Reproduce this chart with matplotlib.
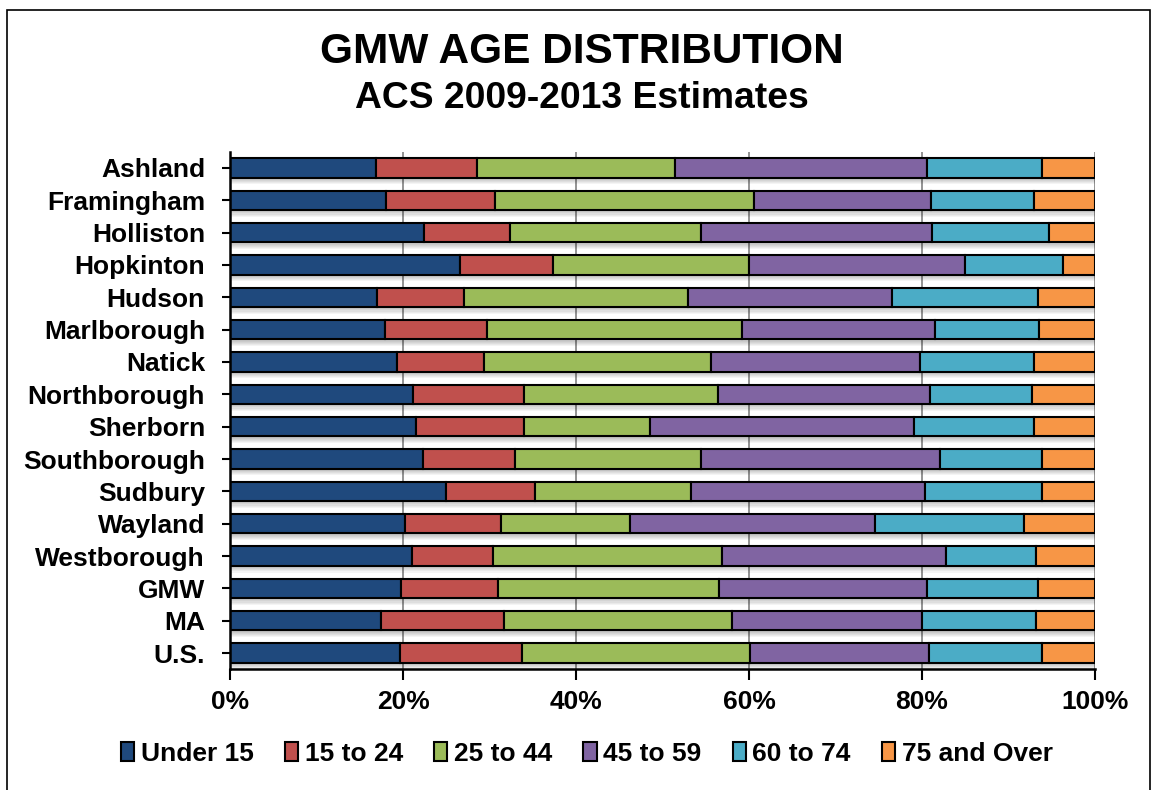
import matplotlib
matplotlib.use("Agg")
import matplotlib.pyplot as plt
from matplotlib.patches import Rectangle
import numpy as np

plt.rcParams['font.family'] = ['Liberation Sans', 'DejaVu Sans']
plt.rcParams['font.weight'] = 'bold'

categories = ["Ashland", "Framingham", "Holliston", "Hopkinton", "Hudson", "Marlborough",
              "Natick", "Northborough", "Sherborn", "Southborough", "Sudbury", "Wayland",
              "Westborough", "GMW", "MA", "U.S."]
series_names = ["Under 15", "15 to 24", "25 to 44", "45 to 59", "60 to 74", "75 and Over"]
under15 = [16.9, 18.0, 22.4, 26.6, 17.0, 17.9, 19.3, 21.1, 21.5, 22.3, 25.0, 20.2, 21.0, 19.8, 17.4, 19.6]
a15_24 = [11.7, 12.6, 10.0, 10.7, 10.1, 11.8, 10.1, 12.9, 12.5, 10.6, 10.3, 11.1, 9.4, 11.2, 14.3, 14.1]
a25_44 = [22.8, 30.0, 22.0, 22.7, 25.9, 29.5, 26.2, 22.4, 14.6, 21.6, 18.0, 14.9, 26.5, 25.5, 26.3, 26.4]
a45_59 = [29.2, 20.4, 26.8, 25.0, 23.5, 22.3, 24.2, 24.5, 30.5, 27.6, 27.0, 28.4, 25.9, 24.1, 22.0, 20.7]
a60_74 = [13.3, 11.9, 13.5, 11.3, 16.9, 12.0, 13.1, 11.8, 13.9, 11.8, 13.6, 17.2, 10.4, 12.8, 13.2, 13.1]
a75_up = [6.1, 7.1, 5.3, 3.7, 6.6, 6.5, 7.1, 7.3, 7.0, 6.1, 6.1, 8.2, 6.8, 6.6, 6.8, 6.1]
colors = ["#1F497D", "#C0504D", "#9BBB59", "#8064A2", "#4BACC6", "#F79646"]
xtick_vals = [0, 20, 40, 60, 80, 100]
xtick_labels = ["0%", "20%", "40%", "60%", "80%", "100%"]

series = [under15, a15_24, a25_44, a45_59, a60_74, a75_up]

fig = plt.figure(figsize=(11.53, 7.90), dpi=100)
fig.patches.append(Rectangle((7 / 1153, -0.1), 1143 / 1153, 1.1 - 10 / 790,
                             transform=fig.transFigure, fill=False,
                             edgecolor='black', linewidth=1.2))

ax = fig.add_axes([230 / 1153, 1 - 669.2 / 790, 865 / 1153, (669.2 - 151.8) / 790])

y = np.arange(len(categories))
bar_h = 0.6
totals = np.sum(np.array(series), axis=0)

# soft shadows
for k in range(1, 7):
    ax.barh(y + k * 0.035, totals + 0.15, height=bar_h, left=0, color='black',
            alpha=0.045, linewidth=0, zorder=2)

left = np.zeros(len(categories))
for vals, name, c in zip(series, series_names, colors):
    ax.barh(y, vals, height=bar_h, left=left, color=c, edgecolor='black',
            linewidth=1.5, label=name, zorder=3)
    left += np.array(vals)

ax.set_xlim(0, 100)
ax.set_ylim(len(categories) - 0.5, -0.5)
ax.set_yticks(y)
ax.set_yticklabels(categories, fontsize=19, fontweight='bold')
ax.set_xticks(xtick_vals)
ax.set_xticklabels(xtick_labels, fontsize=19, fontweight='bold')
ax.tick_params(axis='y', direction='inout', length=12, width=1.5, pad=12)
ax.tick_params(axis='x', direction='out', length=8, width=1.5, pad=7)

ax.xaxis.grid(True, color='#8A8A8A', linewidth=1.3, zorder=0)
ax.set_axisbelow(True)
for s in ['top', 'right']:
    ax.spines[s].set_visible(False)
for s in ['left', 'bottom']:
    ax.spines[s].set_linewidth(1.8)
    ax.spines[s].set_zorder(5)

fig.text(0.505, 1 - 52 / 790, "GMW AGE DISTRIBUTION", ha='center', va='center',
         fontsize=30.5, fontweight='bold')
fig.text(0.505, 1 - 99 / 790, "ACS 2009-2013 Estimates", ha='center', va='center',
         fontsize=26.8, fontweight='bold')

leg = fig.legend(loc='center', bbox_to_anchor=(587 / 1153, 1 - 754 / 790), ncol=6,
                 frameon=False, fontsize=19, handlelength=0.5, handleheight=0.75,
                 handletextpad=0.25, columnspacing=1.18)
for t in leg.get_texts():
    t.set_fontweight('bold')

fig.savefig("out.png", dpi=100)
